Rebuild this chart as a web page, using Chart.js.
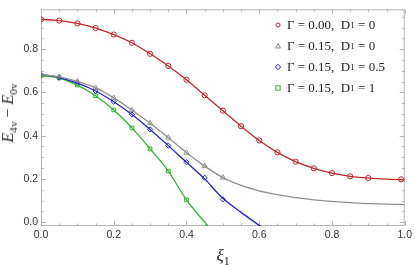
<!DOCTYPE html>
<html>
<head>
<meta charset="utf-8">
<script src="https://cdn.jsdelivr.net/npm/chart.js@4.4.1/dist/chart.umd.min.js"></script>
<style>
body{margin:0;background:#fff}
#wrap{position:relative;width:415px;height:265px}
.lab{position:absolute;font-family:"Liberation Serif","DejaVu Serif",serif;color:#222;white-space:pre;line-height:1}
#ytitle{left:8px;top:113px;font-size:16px;transform:translate(-50%,-50%) rotate(-90deg)}
#xtitle{left:223px;top:255px;font-size:17px;transform:translate(-50%,-50%)}
#legend{position:absolute;left:274px;top:14px}
.row{height:21px;display:flex;align-items:center;font-family:"Liberation Serif","DejaVu Serif",serif;font-size:13px;color:#222;white-space:pre}
.row svg{margin-right:5px}
sub{font-size:70%;vertical-align:-0.35em;line-height:0}
</style>
</head>
<body>
<div id="wrap">
<canvas id="chart" width="415" height="265"></canvas>
<div id="ytitle" class="lab"><i>E</i><sub>4v</sub> − <i>E</i><sub>0v</sub></div>
<div id="xtitle" class="lab"><i>ξ</i><sub>1</sub></div>
<div id="legend"></div>
</div>
<script>
// markers
var redX=[0,0.05,0.1,0.15,0.2,0.25,0.3,0.35,0.4,0.45,0.5,0.55,0.6,0.65,0.7,0.75,0.8,0.85,0.9,0.99]
var redY=[0.938,0.933,0.92,0.898,0.868,0.83,0.779,0.723,0.659,0.587,0.516,0.444,0.378,0.323,0.28,0.249,0.227,0.212,0.204,0.198]
var grayX=[0,0.05,0.1,0.15,0.2,0.25,0.3,0.35,0.4,0.45,0.5]
var grayY=[0.683,0.672,0.651,0.621,0.575,0.519,0.458,0.391,0.321,0.259,0.206]
var blueX=[0,0.05,0.1,0.15,0.2,0.25,0.3,0.35,0.4,0.45,0.5]
var blueY=[0.683,0.669,0.643,0.607,0.557,0.498,0.429,0.354,0.277,0.205,0.105]
var greenX=[0,0.05,0.1,0.15,0.2,0.25,0.3,0.35,0.4]
var greenY=[0.677,0.667,0.634,0.585,0.519,0.436,0.339,0.236,0.103]

// the solid curves
var redLineX=[0,0.05,0.1,0.15,0.2,0.25,0.3,0.35,0.4,0.45,0.5,0.55,0.6,0.65,0.7,0.75,0.8,0.85,0.9,0.95,1]
var redLineY=[0.938,0.933,0.92,0.898,0.868,0.83,0.779,0.723,0.659,0.587,0.516,0.444,0.378,0.323,0.28,0.249,0.227,0.212,0.204,0.199,0.196]
var grayLineX=[0,0.05,0.1,0.15,0.2,0.25,0.3,0.35,0.4,0.45,0.5,0.55,0.6,0.65,0.7,0.75,0.8,0.85,0.9,0.95,1]
var grayLineY=[0.683,0.672,0.651,0.621,0.575,0.519,0.458,0.391,0.321,0.259,0.206,0.17,0.145,0.127,0.113,0.103,0.096,0.09,0.086,0.083,0.081]
var blueLineX=[0,0.05,0.1,0.15,0.2,0.25,0.3,0.35,0.4,0.45,0.5,0.55,0.6,0.62]
var blueLineY=[0.683,0.669,0.643,0.607,0.557,0.498,0.429,0.354,0.277,0.2,0.11,0.045,-0.015,-0.04]
var greenLineX=[0,0.05,0.1,0.15,0.2,0.25,0.3,0.35,0.4,0.45,0.47]
var greenLineY=[0.677,0.667,0.634,0.585,0.519,0.436,0.339,0.236,0.103,0.0,-0.04]

var gammaVals=['0.00','0.15','0.15','0.15']
var d1Vals=['0','0','0.5','1']
var colors=['#c0282d','#8f8f8f','#2323c8','#2fb52f']
var shapes=['circle','triangle','rectRot','rect']

var xTicks=[0,0.2,0.4,0.6,0.8,1.0]
var yTicks=[0,0.2,0.4,0.6,0.8]

function pts(xs,ys){return xs.map(function(x,i){return {x:x,y:ys[i]}})}

var lines=[[redLineX,redLineY],[grayLineX,grayLineY],[blueLineX,blueLineY],[greenLineX,greenLineY]]
var marks=[[redX,redY],[grayX,grayY],[blueX,blueY],[greenX,greenY]]

var datasets=[]
lines.forEach(function(l,i){
    datasets.push({type:'line',data:pts(l[0],l[1]),borderColor:colors[i],borderWidth:1.3,
        pointRadius:0,cubicInterpolationMode:'monotone',fill:false})
})
marks.forEach(function(m,i){
    datasets.push({type:'scatter',data:pts(m[0],m[1]),borderColor:colors[i],backgroundColor:'rgba(0,0,0,0)',
        pointStyle:shapes[i],pointRadius:shapes[i]=='triangle'?3:2.6,borderWidth:1})
})

var frame={id:'frame',beforeDatasetsDraw:function(chart){
    var a=chart.chartArea,c=chart.ctx,xs=chart.scales.x,ys=chart.scales.y
    c.save()
    c.strokeStyle='#b4b4b4'
    c.lineWidth=1
    c.strokeRect(a.left+0.5,a.top+0.5,a.right-a.left-1,a.bottom-a.top-1)
    c.beginPath()
    for(var k=0;k<=20;k++){
        var v=k*0.05, len=(k%4==0)?5:2.5
        var px=Math.round(xs.getPixelForValue(v))+0.5
        c.moveTo(px,a.bottom);c.lineTo(px,a.bottom-len)
        c.moveTo(px,a.top);c.lineTo(px,a.top+len)
    }
    for(var k=0;k<=19;k++){
        var v=k*0.05, len=(k%4==0)?5:2.5
        var py=Math.round(ys.getPixelForValue(v))+0.5
        c.moveTo(a.left,py);c.lineTo(a.left+len,py)
        c.moveTo(a.right,py);c.lineTo(a.right-len,py)
    }
    c.stroke()
    c.restore()
}}

var ctx=document.getElementById('chart').getContext('2d')
var chart=new Chart(ctx,{
    data:{datasets:datasets},
    options:{
        responsive:false,
        animation:false,
        devicePixelRatio:1,
        layout:{padding:{left:0,right:7,top:0,bottom:0}},
        plugins:{legend:{display:false},tooltip:{enabled:false}},
        scales:{
            x:{type:'linear',min:0,max:1,
                afterFit:function(s){s.height=39},
                afterBuildTicks:function(s){s.ticks=xTicks.map(function(v){return {value:v}})},
                grid:{display:false,drawTicks:false},border:{display:false},
                ticks:{padding:3,color:'#333',font:{family:'Liberation Sans',size:10.5},maxRotation:0,
                    callback:function(v){return v.toFixed(1)}}},
            y:{type:'linear',min:-0.018,max:0.985,
                afterFit:function(s){s.width=41},
                afterBuildTicks:function(s){s.ticks=yTicks.map(function(v){return {value:v}})},
                grid:{display:false,drawTicks:false},border:{display:false},
                ticks:{padding:3,color:'#333',font:{family:'Liberation Sans',size:10.5},
                    callback:function(v){return v.toFixed(1)}}}
        }
    },
    plugins:[frame]
})

// legend
var leg=document.getElementById('legend')
gammaVals.forEach(function(g,i){
    var svg
    var col=colors[i]
    if(shapes[i]=='circle') svg='<circle cx="4" cy="4" r="2" fill="none" stroke="'+col+'" stroke-width="1"/>'
    else if(shapes[i]=='triangle') svg='<polygon points="4,1.5 6.5,6 1.5,6" fill="none" stroke="'+col+'" stroke-width="1"/>'
    else if(shapes[i]=='rectRot') svg='<polygon points="4,1.2 6.6,4 4,6.8 1.4,4" fill="none" stroke="'+col+'" stroke-width="1"/>'
    else svg='<rect x="1.8" y="1.8" width="4.4" height="4.4" fill="none" stroke="'+col+'" stroke-width="1"/>'
    var row=document.createElement('div')
    row.className='row'
    row.innerHTML='<svg width="8" height="8">'+svg+'</svg>Γ = '+g+',  D<sub>1</sub> = '+d1Vals[i]
    leg.appendChild(row)
})
</script>
</body>
</html>
